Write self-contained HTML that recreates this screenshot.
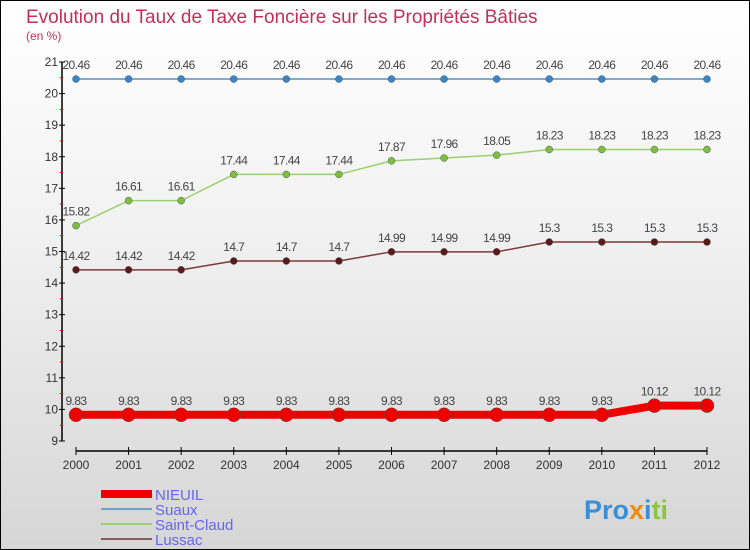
<!DOCTYPE html>
<html><head><meta charset="utf-8"><style>
body{margin:0;}
#c{width:750px;height:550px;position:relative;box-sizing:border-box;border:1px solid #000;background:linear-gradient(#ffffff,#f2f2f2 40%,#d6d6d6);font-family:"Liberation Sans",sans-serif;overflow:hidden}
</style></head><body>
<div id="c">
<svg width="750" height="550" id="svg" style="position:absolute;left:0;top:0">
<text x="25" y="22" font-size="19" fill="#c0305a">Evolution du Taux de Taxe Foncière sur les Propriétés Bâties</text>
<text x="25" y="39" font-size="12" fill="#c0305a">(en %)</text>
<g id="axes"></g><g id="series"></g>
<g>
<rect x="100" y="489" width="51" height="8" fill="#e00"/>
<text x="154" y="499" font-size="15" fill="#6666ee">NIEUIL</text>
<line x1="100" y1="508" x2="151" y2="508" stroke="#6fa0c8" stroke-width="2"/>
<text x="154" y="514" font-size="15" fill="#6666ee">Suaux</text>
<line x1="100" y1="523" x2="151" y2="523" stroke="#99d070" stroke-width="2"/>
<text x="154" y="529" font-size="15" fill="#6666ee">Saint-Claud</text>
<line x1="100" y1="538" x2="151" y2="538" stroke="#8a5a5a" stroke-width="2"/>
<text x="154" y="544" font-size="15" fill="#6666ee">Lussac</text>
</g>
<text x="583" y="518" font-size="27" font-weight="bold"><tspan fill="#3a8fd8">Pro</tspan><tspan fill="#f08a10">x</tspan><tspan fill="#3a8fd8">i</tspan><tspan fill="#8cc63f">ti</tspan></text>
</svg>
</div>
<script>
const years=[2000,2001,2002,2003,2004,2005,2006,2007,2008,2009,2010,2011,2012];
const nieuil=[9.83,9.83,9.83,9.83,9.83,9.83,9.83,9.83,9.83,9.83,9.83,10.12,10.12];
const suaux=[20.46,20.46,20.46,20.46,20.46,20.46,20.46,20.46,20.46,20.46,20.46,20.46,20.46];
const saintClaud=[15.82,16.61,16.61,17.44,17.44,17.44,17.87,17.96,18.05,18.23,18.23,18.23,18.23];
const lussac=[14.42,14.42,14.42,14.7,14.7,14.7,14.99,14.99,14.99,15.3,15.3,15.3,15.3];
const yTicks=[9,10,11,12,13,14,15,16,17,18,19,20,21];
const NS="http://www.w3.org/2000/svg";
function X(i){return 75+i*(706-75)/(years.length-1);}
function Y(v){return 440-(v-9)*(440-61)/12;}
function mk(t,a,p){const e=document.createElementNS(NS,t);for(const k in a)e.setAttribute(k,a[k]);p.appendChild(e);return e;}
const ax=document.getElementById('axes');
let l=mk('line',{x1:61,y1:61,x2:61,y2:440,stroke:'#000','stroke-width':1.5},ax);


l=mk('line',{x1:75,y1:450,x2:706,y2:450,stroke:'#000','stroke-width':1.5},ax);


yTicks.forEach(v=>{
 mk('line',{x1:58,y1:Y(v),x2:64,y2:Y(v),stroke:'#000'},ax);
 if(v<21)mk('line',{x1:59,y1:Y(v+0.5),x2:62,y2:Y(v+0.5),stroke:'#e00'},ax);
 const t=mk('text',{x:57,y:Y(v)+4,'font-size':12,'text-anchor':'end',fill:'#333'},ax);t.textContent=v;
 
 
});
years.forEach((y,i)=>{
 mk('line',{x1:X(i),y1:446,x2:X(i),y2:454,stroke:'#000'},ax);
 const t=mk('text',{x:X(i),y:468,'font-size':12,'text-anchor':'middle',fill:'#333'},ax);t.textContent=y;
 
 
});
const sg=document.getElementById('series');
function draw(vals,color,w,r,dot,name){
 const g=mk('g',{},sg);
 
 
 mk('polyline',{points:vals.map((v,i)=>X(i)+','+Y(v)).join(' '),fill:'none',stroke:color,'stroke-width':w},g);
 vals.forEach((v,i)=>{
  const c=mk('circle',{cx:X(i),cy:Y(v),r:r,fill:dot,stroke:'#555','stroke-width':0.5},g);
  
  
  const t=mk('text',{x:X(i),y:Y(v)-10,'font-size':12,'text-anchor':'middle',fill:'#444','letter-spacing':'-0.6'},g);t.textContent=v;
  
  
 });
}
draw(suaux,'#5b8fbf',1.5,3.5,'#3a85c8','suaux');
draw(saintClaud,'#99d070',1.5,3.5,'#7cc040','saint-claud');
draw(lussac,'#7a3a3a',1.5,3.5,'#5a1a1a','lussac');
draw(nieuil,'#ee0000',8,7,'#ee0000','nieuil');
</script>
</body></html>
